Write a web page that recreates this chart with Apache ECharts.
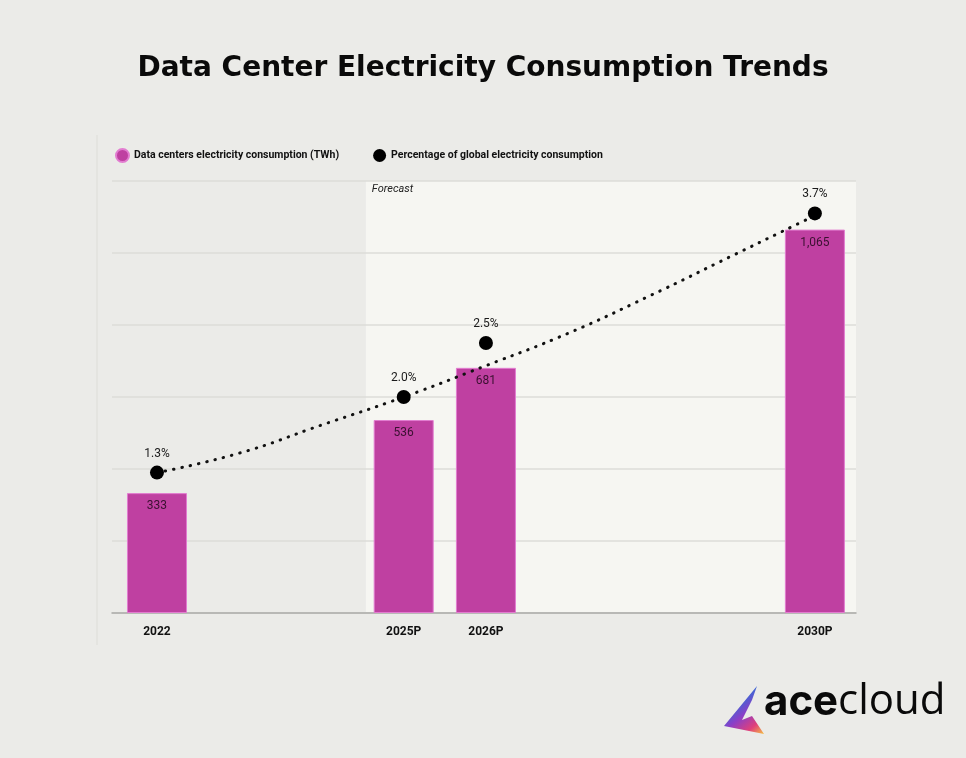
<!DOCTYPE html>
<html>
<head>
<meta charset="utf-8">
<script src="https://cdn.jsdelivr.net/npm/echarts@6/dist/echarts.min.js"></script>
<style>
  html, body { margin: 0; padding: 0; background: #ebebe8; }
  #chart_container { width: 966px; height: 758px; }
</style>
</head>
<body>
<div id="chart_container"></div>
<script>
// data
var years = [2022, 2025, 2026, 2030];
var yearLabels = ['2022', '2025P', '2026P', '2030P'];
var consumption = [333, 536, 681, 1065];        // TWh
var share = [1.3, 2.0, 2.5, 3.7];               // % of global electricity
var trendYears = [2022, 2023, 2024, 2025, 2026, 2027, 2028, 2029, 2030];
var trendShare = [1.3, 1.48, 1.74, 2.0, 2.29, 2.59, 2.94, 3.31, 3.68];
var forecastStart = 2024.54;
var xMin = 2021.453, xMax = 2030.5;

var labelFont = "Roboto, sans-serif";

var dom = document.getElementById("chart_container");
var myChart = echarts.init(dom);

var barData = [];
for (var i = 0; i < years.length; i++) {
    barData.push([years[i], consumption[i]]);
}
var dotData = [];
for (var i = 0; i < years.length; i++) {
    dotData.push([years[i], share[i]]);
}
var trendData = [];
for (var i = 0; i < trendYears.length; i++) {
    trendData.push([trendYears[i], trendShare[i]]);
}

var option = {
    backgroundColor: '#ebebe8',
    title: {
        text: 'Data Center Electricity Consumption Trends',
        left: 'center',
        top: 50,
        textStyle: {
            fontFamily: "'DejaVu Sans', sans-serif",
            fontWeight: 'bold',
            fontSize: 28,
            color: '#0a0a0a'
        }
    },
    legend: {
        left: 110,
        top: 143,
        itemWidth: 13,
        itemHeight: 13,
        itemGap: 34,
        icon: 'circle',
        textStyle: {
            fontFamily: labelFont,
            fontWeight: 'bold',
            fontSize: 10.5,
            color: '#111'
        },
        data: ['Data centers electricity consumption (TWh)', 'Percentage of global electricity consumption']
    },
    grid: {
        left: 112,
        right: 110,
        top: 181,
        bottom: 145,
        containLabel: false
    },
    xAxis: {
        type: 'value',
        min: xMin,
        max: xMax,
        splitLine: { show: false },
        axisLine: { show: true, lineStyle: { color: '#aaaaa8', width: 1.5 } },
        axisTick: { show: false },
        axisLabel: {
            customValues: years,
            margin: 13,
            fontFamily: labelFont,
            fontWeight: 'bold',
            fontSize: 12,
            color: '#111',
            formatter: function (v) {
                return yearLabels[years.indexOf(v)];
            }
        }
    },
    yAxis: [{
        type: 'value',
        min: 0,
        max: 1200,
        interval: 200,
        axisLabel: { show: false },
        axisLine: { show: false },
        axisTick: { show: false },
        splitLine: { lineStyle: { color: '#dcdcd8', width: 1.5 } }
    }, {
        type: 'value',
        min: 0,
        max: 4,
        show: false,
        splitLine: { show: false }
    }],
    series: [{
        // forecast shading, kept under the grid lines
        name: 'forecast',
        type: 'line',
        data: [],
        markArea: {
            silent: true,
            z: -1,
            itemStyle: { color: '#f6f6f2' },
            data: [[
                { xAxis: forecastStart, yAxis: 1200 },
                { xAxis: xMax, yAxis: 0 }
            ]]
        }
    }, {
        name: 'Data centers electricity consumption (TWh)',
        type: 'bar',
        data: barData,
        barWidth: 60,
        itemStyle: {
            color: '#bf40a1',
            borderColor: '#e27cd0',
            borderWidth: 1
        },
        label: {
            show: true,
            position: 'insideTop',
            distance: 7,
            fontFamily: labelFont,
            fontSize: 12,
            color: '#3a1030',
            formatter: function (p) {
                return p.value[1].toLocaleString('en-US');
            }
        },
        z: 2
    }, {
        name: 'trend',
        type: 'line',
        yAxisIndex: 1,
        data: trendData,
        smooth: true,
        symbol: 'none',
        lineStyle: {
            color: '#111',
            width: 3,
            type: [0.5, 8],
            cap: 'round'
        },
        z: 3
    }, {
        name: 'Percentage of global electricity consumption',
        type: 'scatter',
        yAxisIndex: 1,
        data: dotData,
        symbolSize: 14,
        itemStyle: { color: '#000', opacity: 1 },
        label: {
            show: true,
            position: 'top',
            distance: 6,
            fontFamily: labelFont,
            fontSize: 12,
            color: '#1a1a1a',
            formatter: function (p) {
                return p.value[1].toFixed(1) + '%';
            }
        },
        z: 4
    }]
};

if (option && typeof option === "object") {
    myChart.setOption(option, true);
}

// "Forecast" note sits at the top-left corner of the shaded area
var corner = myChart.convertToPixel({ gridIndex: 0 }, [forecastStart, 1200]);
if (!corner || isNaN(corner[0]) || isNaN(corner[1])) {
    corner = [112 + (forecastStart - xMin) / (xMax - xMin) * 744, 181];
}

myChart.setOption({
    graphic: [{
        type: 'line',
        shape: { x1: 97, y1: 135, x2: 97, y2: 645 },
        style: { stroke: '#e2e2de', lineWidth: 1.5 },
        silent: true
    }, {
        type: 'text',
        x: corner[0] + 6,
        y: corner[1] + 3,
        z: 10,
        style: {
            text: 'Forecast',
            fontFamily: labelFont,
            fontStyle: 'italic',
            fontSize: 11,
            fill: '#222'
        },
        silent: true
    }, {
        type: 'polygon',
        shape: { points: [[757, 686], [724, 726], [764, 734], [752, 716], [742, 720], [752, 700]] },
        style: {
            fill: new echarts.graphic.LinearGradient(0, 0, 1, 1, [
                { offset: 0, color: '#2fb34a' },
                { offset: 0.3, color: '#2f6fd6' },
                { offset: 0.55, color: '#8a3fc8' },
                { offset: 0.8, color: '#e0407a' },
                { offset: 1, color: '#f5c040' }
            ])
        },
        silent: true
    }, {
        type: 'text',
        x: 764,
        y: 681,
        style: {
            text: '{a|ace}{b|cloud}',
            rich: {
                a: { fontFamily: 'Inter, sans-serif', fontWeight: 700, fontSize: 42, fill: '#0a0a0a' },
                b: { fontFamily: "'Open Sans', sans-serif", fontWeight: 400, fontSize: 42, fill: '#0a0a0a' }
            }
        },
        silent: true
    }]
});
</script>
</body>
</html>
